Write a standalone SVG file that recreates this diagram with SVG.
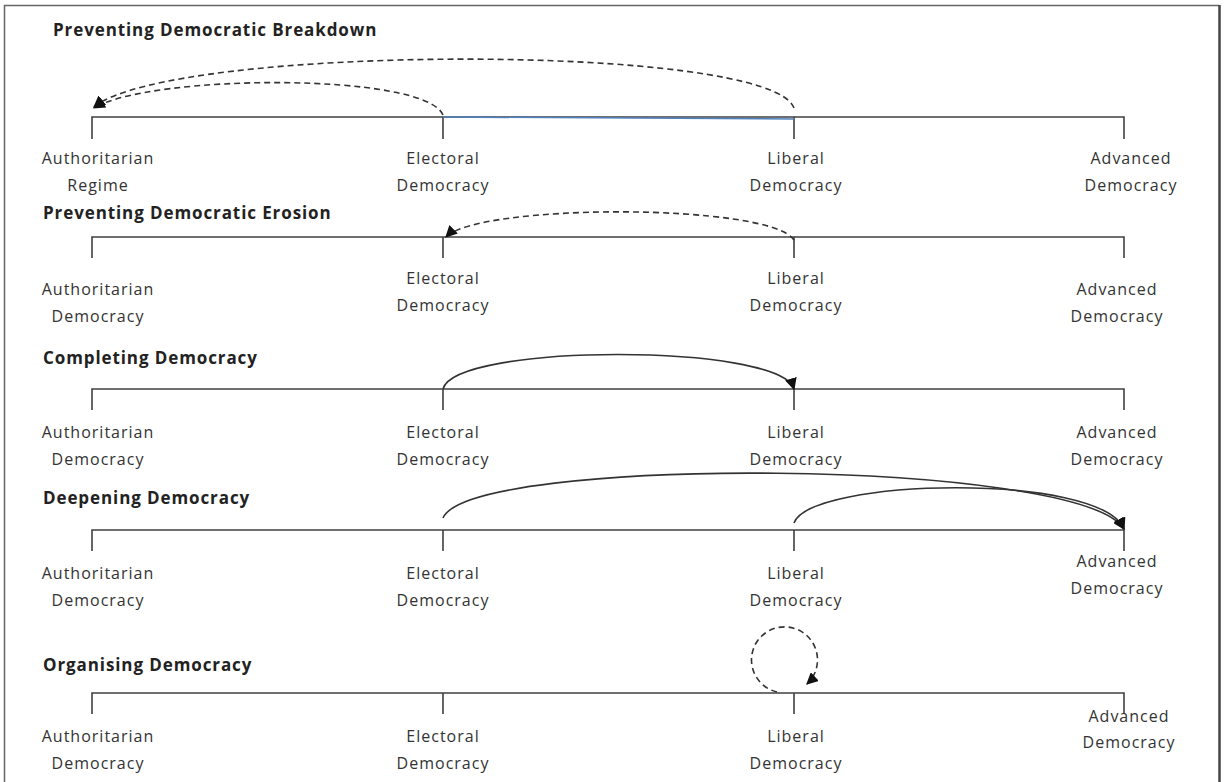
<svg xmlns="http://www.w3.org/2000/svg" width="1225" height="782" viewBox="0 0 1225 782">
  <style>
    .title { font-family: "Open Sans", "Liberation Sans", sans-serif; font-weight: bold; font-size: 17px; letter-spacing: 0.9px; fill: #222; }
    .lbl { font-family: "Open Sans", "Liberation Sans", sans-serif; font-size: 16px; letter-spacing: 1px; fill: #333; text-anchor: middle; }
    .axis { stroke: #404040; stroke-width: 1.6; fill: none; }
    .arc { stroke: #333; stroke-width: 1.6; fill: none; }
    .dash { stroke-dasharray: 6 4; }
  </style>
  <defs>
    <marker id="head" viewBox="0 0 10 10" refX="9" refY="5" markerWidth="12" markerHeight="12" markerUnits="userSpaceOnUse" orient="auto">
      <path d="M0,0 L10,5 L0,10 z" fill="#111"/>
    </marker>
  </defs>

  <rect width="1225" height="782" fill="#fff"/>
  <!-- frame -->
  <path d="M4.5,790 V5.5 H1219" fill="none" stroke="#666" stroke-width="1.5"/>
  <line x1="1219.5" y1="5" x2="1219.5" y2="790" stroke="#444" stroke-width="2.5"/>

  <!-- Scale 1: Preventing Democratic Breakdown -->
  <g id="scale-breakdown">
    <text class="title" x="53" y="36">Preventing Democratic Breakdown</text>
    <path class="axis" d="M92,139 V117 H1124 V139 M443,117 V139 M794,117 V139"/>
    <line x1="443" y1="117" x2="794" y2="119" stroke="#4f81bd" stroke-width="1.5"/>
    <text class="lbl" x="98" y="164">Authoritarian</text>
    <text class="lbl" x="98" y="191">Regime</text>
    <text class="lbl" x="443" y="164">Electoral</text>
    <text class="lbl" x="443" y="191">Democracy</text>
    <text class="lbl" x="796" y="164">Liberal</text>
    <text class="lbl" x="796" y="191">Democracy</text>
    <text class="lbl" x="1131" y="164">Advanced</text>
    <text class="lbl" x="1131" y="191">Democracy</text>
  </g>

  <!-- Scale 2: Preventing Democratic Erosion -->
  <g id="scale-erosion">
    <text class="title" x="43" y="219">Preventing Democratic Erosion</text>
    <path class="axis" d="M92,258 V237 H1124 V258 M443,237 V258 M794,237 V258"/>
    <text class="lbl" x="98" y="295">Authoritarian</text>
    <text class="lbl" x="98" y="322">Democracy</text>
    <text class="lbl" x="443" y="284">Electoral</text>
    <text class="lbl" x="443" y="311">Democracy</text>
    <text class="lbl" x="796" y="284">Liberal</text>
    <text class="lbl" x="796" y="311">Democracy</text>
    <text class="lbl" x="1117" y="295">Advanced</text>
    <text class="lbl" x="1117" y="322">Democracy</text>
  </g>

  <!-- Scale 3: Completing Democracy -->
  <g id="scale-completing">
    <text class="title" x="43" y="364">Completing Democracy</text>
    <path class="axis" d="M92,410 V389 H1124 V410 M443,389 V410 M794,389 V410"/>
    <text class="lbl" x="98" y="438">Authoritarian</text>
    <text class="lbl" x="98" y="465">Democracy</text>
    <text class="lbl" x="443" y="438">Electoral</text>
    <text class="lbl" x="443" y="465">Democracy</text>
    <text class="lbl" x="796" y="438">Liberal</text>
    <text class="lbl" x="796" y="465">Democracy</text>
    <text class="lbl" x="1117" y="438">Advanced</text>
    <text class="lbl" x="1117" y="465">Democracy</text>
  </g>

  <!-- Scale 4: Deepening Democracy -->
  <g id="scale-deepening">
    <text class="title" x="43" y="504">Deepening Democracy</text>
    <path class="axis" d="M92,551 V530 H1124 V551 M443,530 V551 M794,530 V551"/>
    <text class="lbl" x="98" y="579">Authoritarian</text>
    <text class="lbl" x="98" y="606">Democracy</text>
    <text class="lbl" x="443" y="579">Electoral</text>
    <text class="lbl" x="443" y="606">Democracy</text>
    <text class="lbl" x="796" y="579">Liberal</text>
    <text class="lbl" x="796" y="606">Democracy</text>
    <text class="lbl" x="1117" y="567">Advanced</text>
    <text class="lbl" x="1117" y="594">Democracy</text>
  </g>

  <!-- Scale 5: Organising Democracy -->
  <g id="scale-organising">
    <text class="title" x="43" y="671">Organising Democracy</text>
    <path class="axis" d="M92,714 V693 H1124 V714 M443,693 V714 M794,693 V714"/>
    <text class="lbl" x="98" y="742">Authoritarian</text>
    <text class="lbl" x="98" y="769">Democracy</text>
    <text class="lbl" x="443" y="742">Electoral</text>
    <text class="lbl" x="443" y="769">Democracy</text>
    <text class="lbl" x="796" y="742">Liberal</text>
    <text class="lbl" x="796" y="769">Democracy</text>
    <text class="lbl" x="1129" y="722">Advanced</text>
    <text class="lbl" x="1129" y="748">Democracy</text>
  </g>

  <!-- transition arrows -->
  <g id="connectors">
    <path class="arc dash" d="M443,115 C425,72 150,74 94,108" marker-end="url(#head)"/>
    <path class="arc dash" d="M794,108 C770,42 170,44 94,107" marker-end="url(#head)"/>
    <path class="arc dash" d="M794,240 C770,203 480,203 446,237" marker-end="url(#head)"/>
    <path class="arc" d="M443,389 C455,343 780,343 794,389" marker-end="url(#head)"/>
    <path class="arc" d="M443,518 C470,455 1080,458 1124,529" marker-end="url(#head)"/>
    <path class="arc" d="M794,523 C810,478 1100,472 1124,529" marker-end="url(#head)"/>
    <path class="arc dash" d="M777,692 A33,33 0 1 1 807,684" marker-end="url(#head)"/>
  </g>
</svg>
